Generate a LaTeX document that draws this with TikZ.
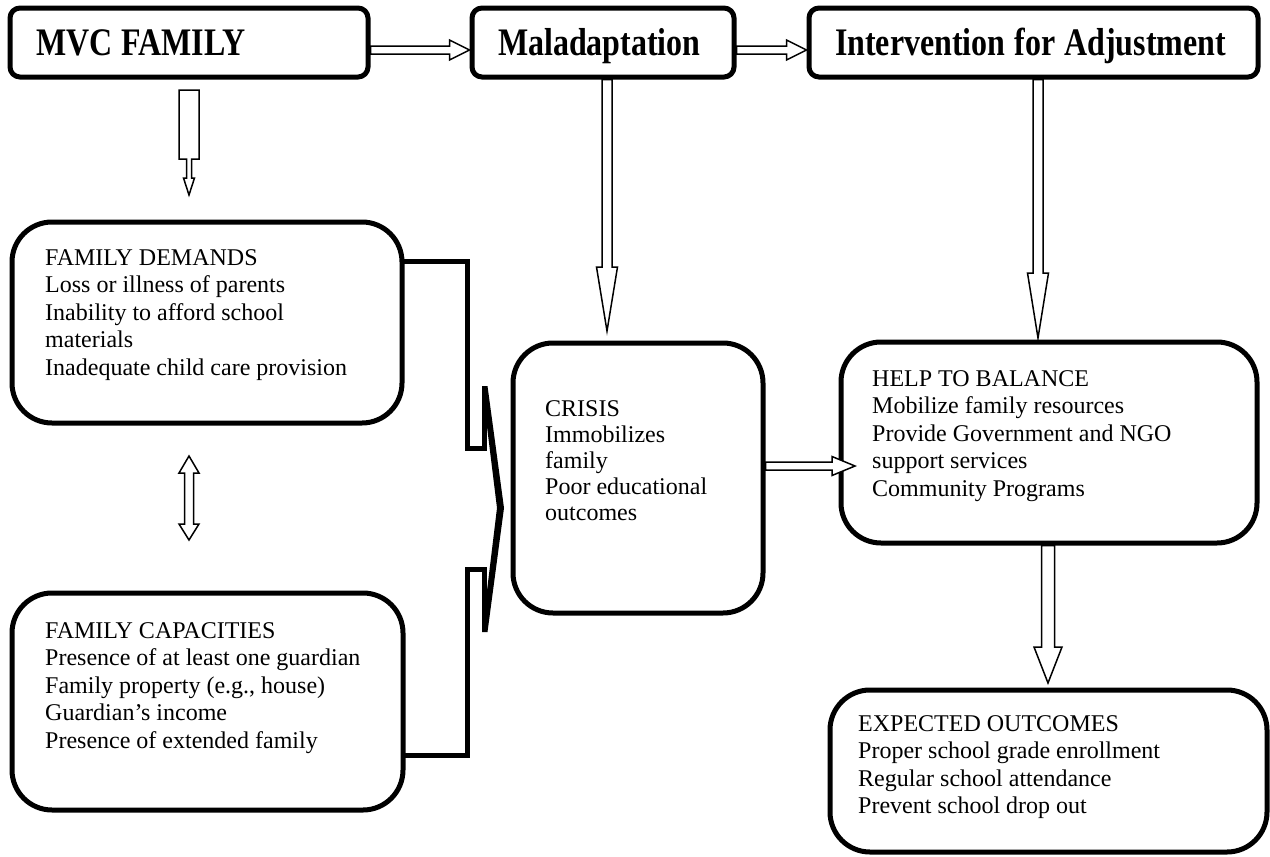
\documentclass[tikz,border=0pt]{standalone}
\usepackage{fontspec}
\setmainfont{Liberation Serif}
\newfontfamily\titlefont{Liberation Serif}[FakeStretch=0.82]
\newcommand{\titlestyle}{\titlefont\fontsize{39}{44}\selectfont\bfseries\spaceskip=9pt\relax}
\usetikzlibrary{positioning}
\usetikzlibrary{calc}
\tikzstyle{topbox}=[draw,rounded corners=10pt,line width=5pt,outer sep=0pt,minimum height=69pt,inner xsep=26pt,align=left,text height=26pt,text depth=1pt]
\tikzstyle{bigbox}=[draw,rounded corners=40pt,line width=5pt,outer sep=0pt,inner sep=0pt]
\tikzstyle{boxtext}=[anchor=north west,inner sep=0pt,align=left,font=\fontsize{24}{27.6}\selectfont]
\tikzstyle{hollow}=[draw,fill=white,line width=1.5pt]
\tikzstyle{bracket}=[draw,line width=5pt]

\newcommand{\hollowarrow}[5]{% tail, tip, shaft half width, head half width, head length
  \path (#1) coordinate (ha) (#2) coordinate (hb) ($(hb)!#5pt!(ha)$) coordinate (hc);
  \draw[hollow] ($(ha)!#3pt!90:(hb)$) -- ($(hc)!#3pt!-90:(ha)$) -- ($(hc)!#4pt!-90:(ha)$) -- (hb)
     -- ($(hc)!#4pt!90:(ha)$) -- ($(hc)!#3pt!90:(ha)$) -- ($(ha)!#3pt!-90:(hb)$) -- cycle;
}

\begin{document}
\begin{tikzpicture}[x=1pt,y=-1pt]
\useasboundingbox (0,0) rectangle (1270,857);

%Top row
\node[topbox,text width=306pt] (mvc) at (189,42.5) {\titlestyle MVC FAMILY};
\node[topbox,text width=210pt] (mal) at (603,42.5) {\titlestyle Maladaptation};
\node[topbox,text width=397pt] (int) at (1033.5,42.5) {\titlestyle\mbox{Intervention for Adjustment}};

%Left column
\node[bigbox,minimum width=390pt,minimum height=201pt] (demands) at (207,322.5) {};
\node[boxtext] (demandstext) at ($(demands.north west)+(33,27)$) {FAMILY DEMANDS\\Loss or illness of parents\\Inability to afford school\\materials\\Inadequate child care provision};

\node[bigbox,minimum width=391pt,minimum height=217pt] (capacities) at (207.5,701.5) {};
\node[boxtext] (capacitiestext) at ($(capacities.north west)+(33,29)$) {FAMILY CAPACITIES\\Presence of at least one guardian\\Family property (e.g., house)\\Guardian’s income\\Presence of extended family};

%Crisis and help
\node[bigbox,minimum width=250pt,minimum height=270pt] (crisis) at (638,478) {};
\node[boxtext,font=\fontsize{24}{26}\selectfont] (crisistext) at ($(crisis.north west)+(32,57)$) {CRISIS\\Immobilizes\\family\\Poor educational\\outcomes};

\node[bigbox,minimum width=416pt,minimum height=201pt] (help) at (1049,442.5) {};
\node[boxtext] (helptext) at ($(help.north west)+(31,28)$) {HELP TO BALANCE\\Mobilize family resources\\Provide Government and NGO\\support services\\Community Programs};

\node[bigbox,minimum width=437pt,minimum height=162pt] (expected) at (1048.5,771) {};
\node[boxtext] (expectedtext) at ($(expected.north west)+(28,25)$) {EXPECTED OUTCOMES\\Proper school grade enrollment\\Regular school attendance\\Prevent school drop out};

%Bracket into crisis
\draw[bracket] ($(demands.north east)+(0,39)$) -- (467.5,261) -- (467.5,448) -- (484.5,448) -- (484.5,388);
\fill (482,386) -- (487.5,386) -- (504,508) -- (487.5,632) -- (482,632) -- (497,508) -- cycle;
\draw[bracket] (484.5,630) -- (484.5,569) -- (467.5,569) -- (467.5,755) -- ($(capacities.north east)+(0,162)$);

%Arrows
\coordinate (a1) at ($(mvc.east)+(2.5,7.5)$);
\coordinate (b1) at ($(mal.west)+(-2.5,7.5)$);
\coordinate (a2) at ($(mal.east)+(2.5,7.5)$);
\coordinate (b2) at ($(int.west)+(-2.5,7.5)$);
\coordinate (a3) at ($(mal.south)+(4,2.5)$);
\coordinate (b3) at ($(mal.south |- crisis.north)+(4,-12)$);
\coordinate (a4) at ($(int.south)+(4.5,2.5)$);
\coordinate (b4) at ($(int.south |- help.north)+(4.5,-4)$);
\coordinate (a5) at ($(crisis.east)+(2.5,-12)$);
\coordinate (b5) at ($(crisis.east -| help.west)+(14,-12)$);
\coordinate (a6) at ($(help.south)+(-1,2.5)$);
\coordinate (b6) at ($(help.south |- expected.north)+(-1,-7)$);

\foreach \from/\to/\sw/\hw/\hl in {a1/b1/4/10/20, a2/b2/4/10/20, a3/b3/5/10.5/64, a4/b4/5/10.5/65, a5/b5/4/9.5/23, a6/b6/6.5/14/36}
  \hollowarrow{\from}{\to}{\sw}{\hw}{\hl};

% MVC down to demands
\coordinate (mvcdown) at ($(mvc.south)+(-10,13)$);
\draw[hollow] (mvcdown) -- ++(20,0) -- ++(0,69) -- ++(-7.5,0) -- ++(0,19) -- ++(3,0) -- ++(-5.5,17)
   -- ++(-5.5,-17) -- ++(3,0) -- ++(0,-19) -- ++(-7.5,0) -- cycle;

% demands <-> capacities
\coordinate (dtop) at ($(mvc.south |- demands.south)+(0,33)$);
\coordinate (dbot) at ($(mvc.south |- capacities.north)+(0,-53)$);
\draw[hollow] (dtop) -- ++(10,17) -- ++(-5.5,0) -- ++(0,51) -- ++(5.5,0) -- (dbot)
   -- ++(-10,-16) -- ++(5.5,0) -- ++(0,-51) -- ++(-5.5,0) -- cycle;

\end{tikzpicture}
\end{document}
